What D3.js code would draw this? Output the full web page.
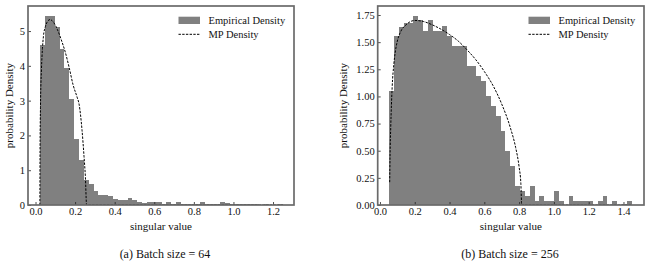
<!DOCTYPE html>
<html>
<head>
<meta charset="utf-8">
<script src="https://cdn.jsdelivr.net/npm/d3@7"></script>
<style>
  body { margin: 0; background: #fff; }
  svg { display: block; font-family: "Liberation Serif", "Times New Roman", serif; }
</style>
</head>
<body>
<svg id="chart" width="651" height="266"></svg>
<script>
// ---- data ----
// (a) batch size 64: 50 histogram bins over [0.023, 1.251]
var leftBinRange = [0.023, 1.251];
var leftDensity = [
  4.60, 5.43, 5.43, 5.12, 4.48, 3.93, 3.05, 1.89, 1.29, 0.72,
  0.60, 0.40, 0.29, 0.29, 0.26, 0.18, 0.13, 0.13, 0.19, 0.13,
  0.08, 0.05, 0.08, 0.08, 0.08, 0.03, 0.08, 0.03, 0.08, 0.03,
  0.03, 0.03, 0.03, 0.08, 0.03, 0.03, 0.03, 0.08, 0.05, 0.03,
  0.03, 0.03, 0.03, 0.03, 0.03, 0.00, 0.03, 0.00, 0.00, 0.03
];
var leftMP = [
  [0.022, 0], [0.023, 1.7], [0.025, 2.8], [0.03, 3.9], [0.035, 4.5], [0.04, 4.85],
  [0.05, 5.13], [0.06, 5.27], [0.073, 5.33], [0.09, 5.26], [0.11, 5.05], [0.13, 4.75],
  [0.15, 4.4], [0.17, 3.95], [0.19, 3.45], [0.21, 3.1], [0.22, 2.9], [0.235, 2.15],
  [0.245, 1.4], [0.252, 0.8], [0.258, 0], [1.251, 0]
];
var leftXTicks = [0.0, 0.2, 0.4, 0.6, 0.8, 1.0, 1.2];
var leftYTicks = [0, 1, 2, 3, 4, 5];

// (b) batch size 256: 50 histogram bins over [0.052, 1.447]
var rightBinRange = [0.052, 1.447];
var rightDensity = [
  1.05, 1.56, 1.64, 1.68, 1.68, 1.74, 1.70, 1.60, 1.70, 1.60,
  1.60, 1.65, 1.56, 1.46, 1.46, 1.46, 1.28, 1.28, 1.19, 1.14,
  1.00, 0.91, 0.82, 0.68, 0.50, 0.36, 0.175, 0.13, 0.083, 0.175,
  0.037, 0.083, 0.037, 0.037, 0.13, 0.037, 0.00, 0.083, 0.037, 0.037,
  0.037, 0.037, 0.00, 0.037, 0.083, 0.00, 0.037, 0.00, 0.01, 0.037
];
var rightMP = [
  [0.056, 0.21], [0.058, 0.45], [0.062, 0.72], [0.07, 1.08], [0.08, 1.3], [0.09, 1.43],
  [0.10, 1.51], [0.12, 1.6], [0.15, 1.66], [0.20, 1.70], [0.25, 1.69], [0.30, 1.66],
  [0.35, 1.62], [0.40, 1.57], [0.45, 1.51], [0.50, 1.43], [0.55, 1.34], [0.60, 1.23],
  [0.65, 1.10], [0.70, 0.93], [0.75, 0.71], [0.78, 0.53], [0.80, 0.35], [0.81, 0.20],
  [0.815, 0], [1.447, 0]
];
var rightXTicks = [0.0, 0.2, 0.4, 0.6, 0.8, 1.0, 1.2, 1.4];
var rightYTicks = [0, 0.25, 0.5, 0.75, 1.0, 1.25, 1.5, 1.75];

var legendLabels = ["Empirical Density", "MP Density"];
var captions = ["(a) Batch size = 64", "(b) Batch size = 256"];

var svg = d3.select("#chart");
svg.append("rect").attr("width", 651).attr("height", 266).attr("fill", "#fff");

function drawPanel(cfg, idx) {
  var x = d3.scaleLinear().domain(cfg.xDomain).range([cfg.x0, cfg.x1]);
  var y = d3.scaleLinear().domain(cfg.yDomain).range([cfg.y1, cfg.y0]);
  var g = svg.append("g");

  var clipId = "clip" + idx;
  g.append("clipPath").attr("id", clipId).append("rect")
    .attr("x", cfg.x0).attr("y", cfg.y0)
    .attr("width", cfg.x1 - cfg.x0).attr("height", cfg.y1 - cfg.y0);

  // histogram bars (edges rounded so neighbours meet without seams)
  var n = cfg.density.length;
  var w = (cfg.binRange[1] - cfg.binRange[0]) / n;
  var edge = function(i) { return Math.round(x(cfg.binRange[0] + i * w)); };
  g.append("g").attr("shape-rendering", "crispEdges")
    .selectAll("rect").data(cfg.density).join("rect")
    .attr("x", function(d, i) { return edge(i); })
    .attr("width", function(d, i) { return edge(i + 1) - edge(i); })
    .attr("y", function(d) { return y(d); })
    .attr("height", function(d) { return y(0) - y(d); })
    .attr("fill", "#808080");

  // MP curve
  var line = d3.line()
    .x(function(d) { return x(d[0]); })
    .y(function(d) { return y(d[1]); })
    .curve(d3.curveMonotoneX);
  g.append("path").datum(cfg.mp)
    .attr("clip-path", "url(#" + clipId + ")")
    .attr("d", line)
    .attr("fill", "none")
    .attr("stroke", "#000")
    .attr("stroke-width", 1)
    .attr("stroke-dasharray", "2.4,1.3");

  // axes, ticks pointing inward
  var xAxis = d3.axisBottom(x).tickValues(cfg.xTicks).tickFormat(d3.format(".1f"))
    .tickSizeInner(-3).tickSizeOuter(0).tickPadding(3);
  var yAxis = d3.axisLeft(y).tickValues(cfg.yTicks).tickFormat(cfg.yFormat)
    .tickSizeInner(-3).tickSizeOuter(0).tickPadding(3);
  var gx = g.append("g").attr("transform", "translate(0," + cfg.y1 + ")").call(xAxis);
  var gy = g.append("g").attr("transform", "translate(" + cfg.x0 + ",0)").call(yAxis);
  [gx, gy].forEach(function(a) {
    a.select(".domain").remove();
    a.selectAll("text").attr("font-family", "Liberation Serif, serif")
      .attr("font-size", 10.5).attr("fill", "#111");
    a.selectAll("line").attr("stroke", "#222").attr("stroke-width", 0.8);
  });

  // frame
  g.append("rect")
    .attr("x", cfg.x0).attr("y", cfg.y0)
    .attr("width", cfg.x1 - cfg.x0).attr("height", cfg.y1 - cfg.y0)
    .attr("fill", "none").attr("stroke", "#6a6a6a").attr("stroke-width", 1.7);

  // axis labels
  g.append("text")
    .attr("x", (cfg.x0 + cfg.x1) / 2).attr("y", 230)
    .attr("text-anchor", "middle").attr("font-size", 11).attr("fill", "#111")
    .text("singular value");
  g.append("text")
    .attr("transform", "translate(" + (cfg.x0 - cfg.ylabOff) + "," + ((cfg.y0 + cfg.y1) / 2) + ") rotate(-90)")
    .attr("text-anchor", "middle").attr("font-size", 11).attr("fill", "#111")
    .text("probability Density");

  // legend
  var lg = g.append("g");
  lg.append("rect").attr("x", cfg.x1 - 115.5).attr("y", 16.7).attr("width", 21.5).attr("height", 7.3)
    .attr("fill", "#808080");
  lg.append("line").attr("x1", cfg.x1 - 115.5).attr("x2", cfg.x1 - 94).attr("y1", 34.3).attr("y2", 34.3)
    .attr("stroke", "#000").attr("stroke-width", 1).attr("stroke-dasharray", "2.4,1.3");
  lg.selectAll("text").data(legendLabels).join("text")
    .attr("x", cfg.x1 - 85.5)
    .attr("y", function(d, i) { return 24 + i * 14.2; })
    .attr("font-size", 10.5).attr("fill", "#111")
    .text(function(d) { return d; });

  // caption
  g.append("text")
    .attr("x", cfg.capX).attr("y", 258)
    .attr("text-anchor", "middle").attr("font-size", 12).attr("fill", "#111")
    .text(cfg.caption);
}

drawPanel({
  x0: 28, x1: 294, y0: 6, y1: 205,
  xDomain: [-0.038, 1.306], yDomain: [0, 5.72],
  binRange: leftBinRange, density: leftDensity, mp: leftMP,
  xTicks: leftXTicks, yTicks: leftYTicks, yFormat: d3.format("d"),
  ylabOff: 15, capX: 165, caption: captions[0]
}, 0);

drawPanel({
  x0: 377.7, x1: 644, y0: 6, y1: 205,
  xDomain: [-0.013, 1.518], yDomain: [0, 1.833],
  binRange: rightBinRange, density: rightDensity, mp: rightMP,
  xTicks: rightXTicks, yTicks: rightYTicks, yFormat: d3.format(".2f"),
  ylabOff: 31, capX: 510, caption: captions[1]
}, 1);
</script>
</body>
</html>
